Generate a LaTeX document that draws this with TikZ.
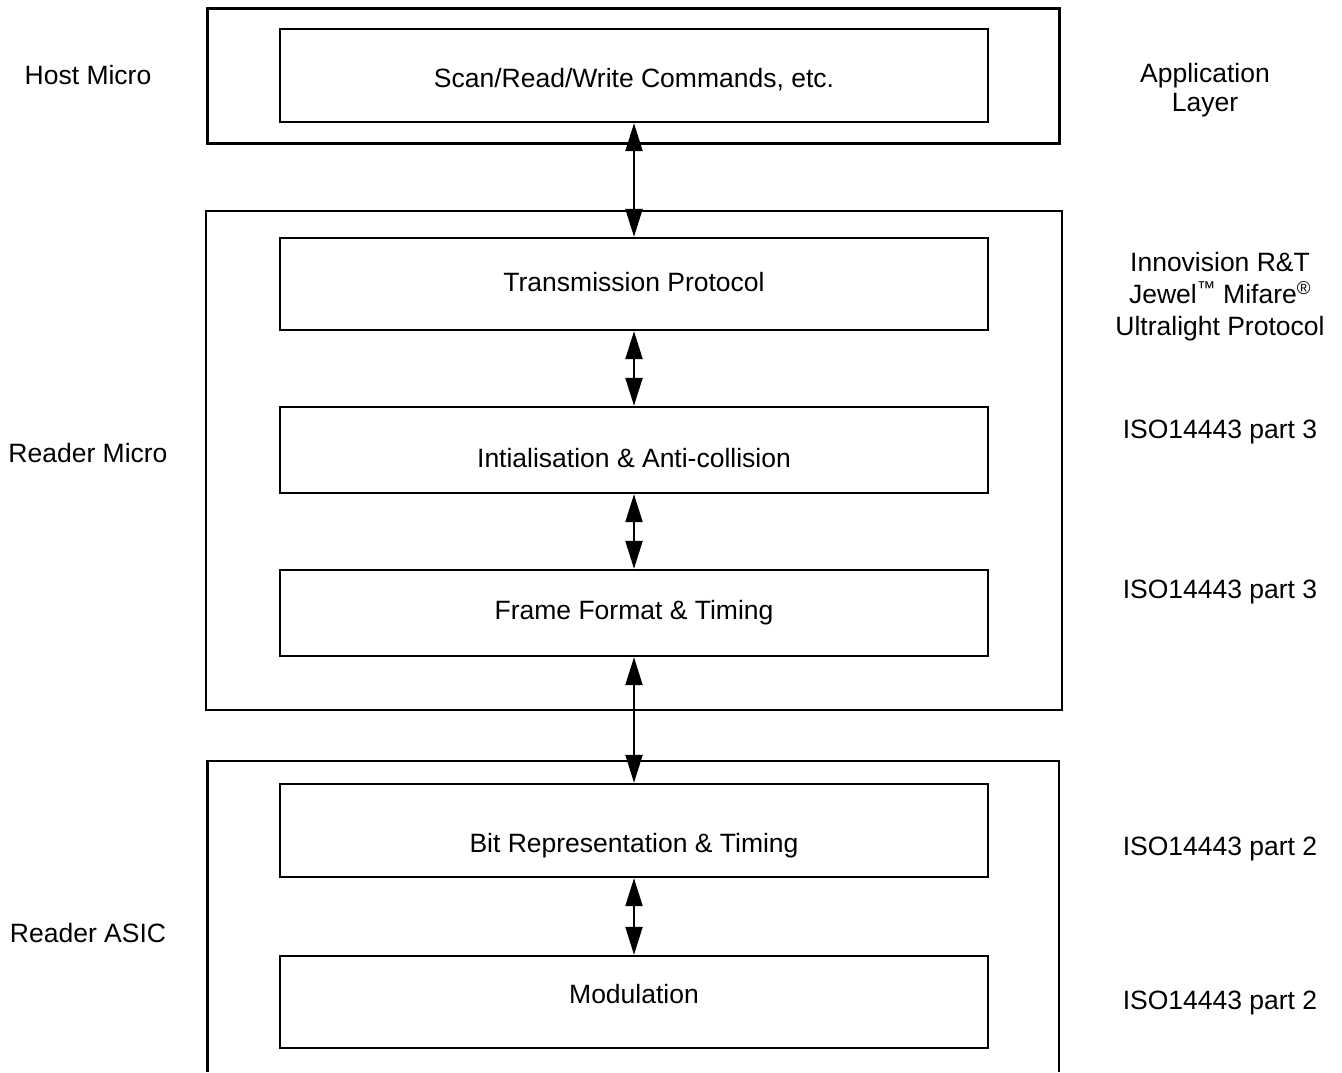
\documentclass[tikz,border=0pt]{standalone}
\usepackage{fontspec}
\setmainfont{Liberation Sans}
\usetikzlibrary{arrows.meta}
\begin{document}
\begin{tikzpicture}[x=1pt,y=-1pt,
  outerbox/.style={draw,line width=2.4pt,inner sep=0pt},
  innerbox/.style={draw,line width=2.4pt,inner sep=0pt,minimum width=708pt},
  txt/.style={font=\fontsize{26.5}{32}\selectfont,inner sep=0pt,align=center},
  link/.style={line width=2.2pt,{Triangle[length=28pt,width=17pt]}-{Triangle[length=28pt,width=17pt]}}]
\useasboundingbox (0,0) rectangle (1342,1072);
% outer boxes
\node[outerbox,minimum width=852pt,minimum height=135pt] (o1) at (633.5,76) {};
\node[outerbox,minimum width=856pt,minimum height=499pt] (o2) at (634,460.5) {};
\coordinate (o3a) at (207.5,1072);
\coordinate (o3b) at (207.5,761);
\coordinate (o3c) at (1059,761);
\coordinate (o3d) at (1059,1072);
\draw[line width=2.4pt] (o3a) -- (o3b) -- (o3c) -- (o3d);
% inner boxes
\node[innerbox,minimum height=93pt] (b1) at (634,75.5) {};
\node[innerbox,minimum height=92pt] (b2) at (634,284) {};
\node[innerbox,minimum height=86pt] (b3) at (634,450) {};
\node[innerbox,minimum height=86pt] (b4) at (634,613) {};
\node[innerbox,minimum height=93pt] (b5) at (634,830.5) {};
\node[innerbox,minimum height=92pt] (b6) at (634,1002) {};
% box texts
\node[txt] (t1) at (634,80) {Scan/Read/Write Commands, etc.};
\node[txt] (t2) at (634,282) {Transmission Protocol};
\node[txt] (t3) at (634,458) {Intialisation \& Anti-collision};
\node[txt] (t4) at (634,613) {Frame Format \& Timing};
\node[txt] (t5) at (634,846) {Bit Representation \& Timing};
\node[txt] (t6) at (634,994) {Modulation};
% connectors
\draw[link] (b1.south) -- (b2.north);
\draw[link] (b2.south) -- (b3.north);
\draw[link] (b3.south) -- (b4.north);
\draw[link] (b4.south) -- (b5.north);
\draw[link] (b5.south) -- (b6.north);
% left labels
\node[txt] (l1) at (88,75) {Host Micro};
\node[txt] (l2) at (88,453) {Reader Micro};
\node[txt] (l3) at (88,933) {Reader ASIC};
% right labels
\node[txt,font=\fontsize{26.5}{29.5}\selectfont] (r1) at (1205,90) {Application\\Layer};
\node[txt] (r2) at (1220,297) {Innovision R\&T\\Jewel\textsuperscript{™} Mifare\textsuperscript{®}\\Ultralight Protocol};
\node[txt] (r3) at (1220,432) {ISO14443 part 3};
\node[txt] (r4) at (1220,592) {ISO14443 part 3};
\node[txt] (r5) at (1220,849) {ISO14443 part 2};
\node[txt] (r6) at (1220,1003) {ISO14443 part 2};
\end{tikzpicture}
\end{document}
